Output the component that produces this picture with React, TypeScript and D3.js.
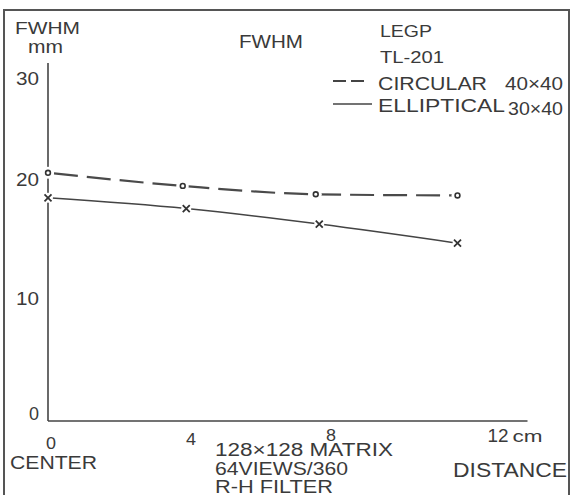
import React from "react";
import * as d3 from "d3";

// chart values
const yTicks = [0, 10, 20, 30];
const xTicks = [0, 4, 8];
const circularX = [0, 3.85, 7.65, 11.7];
const circularY = [20.8, 19.7, 19.0, 18.9];
const ellipticalX = [0, 3.95, 7.75, 11.7];
const ellipticalY = [18.7, 17.8, 16.5, 14.9];
const seriesNames = ["CIRCULAR", "ELLIPTICAL"];
const seriesSizes = ["40×40", "30×40"];
const notes = ["128×128 MATRIX", "64VIEWS/360", "R-H FILTER"];

const W = 572;
const H = 495;
const ink = "#3a3a3a";
const font = "'Liberation Sans', Arial, sans-serif";

const Txt = ({ x, y, w, fs = 18, anchor = "start", children }: any) => (
  <text
    x={x}
    y={y}
    fontSize={fs}
    textAnchor={anchor}
    textLength={w}
    lengthAdjust="spacingAndGlyphs"
    fill={ink}
    fontFamily={font}
  >
    {children}
  </text>
);

const Cross = ({ cx, cy }: any) => (
  <g>
    <circle cx={cx} cy={cy} r={5} fill="#fff" />
    <path
      d={`M${cx - 3.5},${cy - 3.5}L${cx + 3.5},${cy + 3.5}M${cx - 3.5},${cy + 3.5}L${cx + 3.5},${cy - 3.5}`}
      stroke="#333"
      strokeWidth={1.8}
    />
  </g>
);

const Ring = ({ cx, cy }: any) => (
  <g>
    <circle cx={cx} cy={cy} r={6} fill="#fff" />
    <circle cx={cx} cy={cy} r={2.4} fill="#fff" stroke="#333" strokeWidth={1.6} />
  </g>
);

export default function App() {
  const x = d3.scaleLinear([0, 12], [48, 468]);
  const y = d3.scaleLinear([0, 30], [421, 63]);
  const xEnd = x(13.7);

  const path = (xs: number[], ys: number[]) =>
    d3
      .line<[number, number]>()
      .x((d) => x(d[0]))
      .y((d) => y(d[1]))
      .curve(d3.curveMonotoneX)(xs.map((v, i) => [v, ys[i]]));

  return (
    <svg
      width={W}
      height={H}
      style={{ position: "absolute", left: 0, top: 0, background: "#fff" }}
    >
      {/* frame */}
      <rect x={4} y={10} width={565} height={500} fill="none" stroke="#555" strokeWidth={2} />

      {/* axes */}
      <line x1={x(0)} x2={x(0)} y1={y(30)} y2={y(0)} stroke="#444" strokeWidth={1.6} />
      <line x1={x(0)} x2={xEnd} y1={y(0)} y2={y(0)} stroke="#444" strokeWidth={1.6} />

      {/* series */}
      <path
        d={path(circularX, circularY) || ""}
        fill="none"
        stroke="#4a4a4a"
        strokeWidth={2.2}
        strokeDasharray="24 9"
        strokeDashoffset={-6}
      />
      <path d={path(ellipticalX, ellipticalY) || ""} fill="none" stroke="#444" strokeWidth={1.5} />
      {circularX.map((v, i) => (
        <Ring key={"c" + i} cx={x(v)} cy={y(circularY[i])} />
      ))}
      {ellipticalX.map((v, i) => (
        <Cross key={"e" + i} cx={x(v)} cy={y(ellipticalY[i])} />
      ))}

      {/* y tick labels */}
      {yTicks.map((t) => (
        <Txt
          key={"y" + t}
          x={39}
          y={(t === 30 ? y(t) + 15 : t === 0 ? y(t) - 8 : y(t) - 3) + 6.5}
          w={t === 0 ? 10 : 23}
          anchor="end"
        >
          {t}
        </Txt>
      ))}
      <Txt x={15} y={34} w={65} fs={17}>FWHM</Txt>
      <Txt x={28} y={53} w={35} fs={18}>mm</Txt>

      {/* x tick labels */}
      {xTicks.map((t, i) => (
        <Txt key={"x" + t} x={x(t) + 3} y={449 - i * 4} w={10} fs={16} anchor="middle">
          {t}
        </Txt>
      ))}
      <Txt x={xEnd - 40} y={442} w={21} fs={19}>12</Txt>
      <Txt x={xEnd - 15} y={442} w={30} fs={16}>cm</Txt>
      <Txt x={10} y={469} w={87} fs={19}>CENTER</Txt>
      <Txt x={453} y={477} w={114} fs={20}>DISTANCE</Txt>
      {notes.map((n, i) => (
        <Txt key={n} x={215} y={456 + i * 18.5} w={[178, 133, 118][i]} fs={18}>
          {n}
        </Txt>
      ))}

      {/* title and legend */}
      <Txt x={239} y={48} w={64} fs={19}>FWHM</Txt>
      <Txt x={380} y={37} w={52} fs={17}>LEGP</Txt>
      <Txt x={380} y={63} w={64} fs={17}>TL-201</Txt>
      <line x1={333} x2={365} y1={81} y2={81} stroke="#444" strokeWidth={2} strokeDasharray="13 5" />
      <line x1={333} x2={372} y1={104} y2={104} stroke="#444" strokeWidth={1.6} />
      <Txt x={378} y={90} w={109} fs={18}>{seriesNames[0]}</Txt>
      <Txt x={505} y={90} w={58} fs={18}>{seriesSizes[0]}</Txt>
      <Txt x={378} y={112} w={127} fs={18}>{seriesNames[1]}</Txt>
      <Txt x={508} y={115} w={55} fs={18}>{seriesSizes[1]}</Txt>
    </svg>
  );
}
